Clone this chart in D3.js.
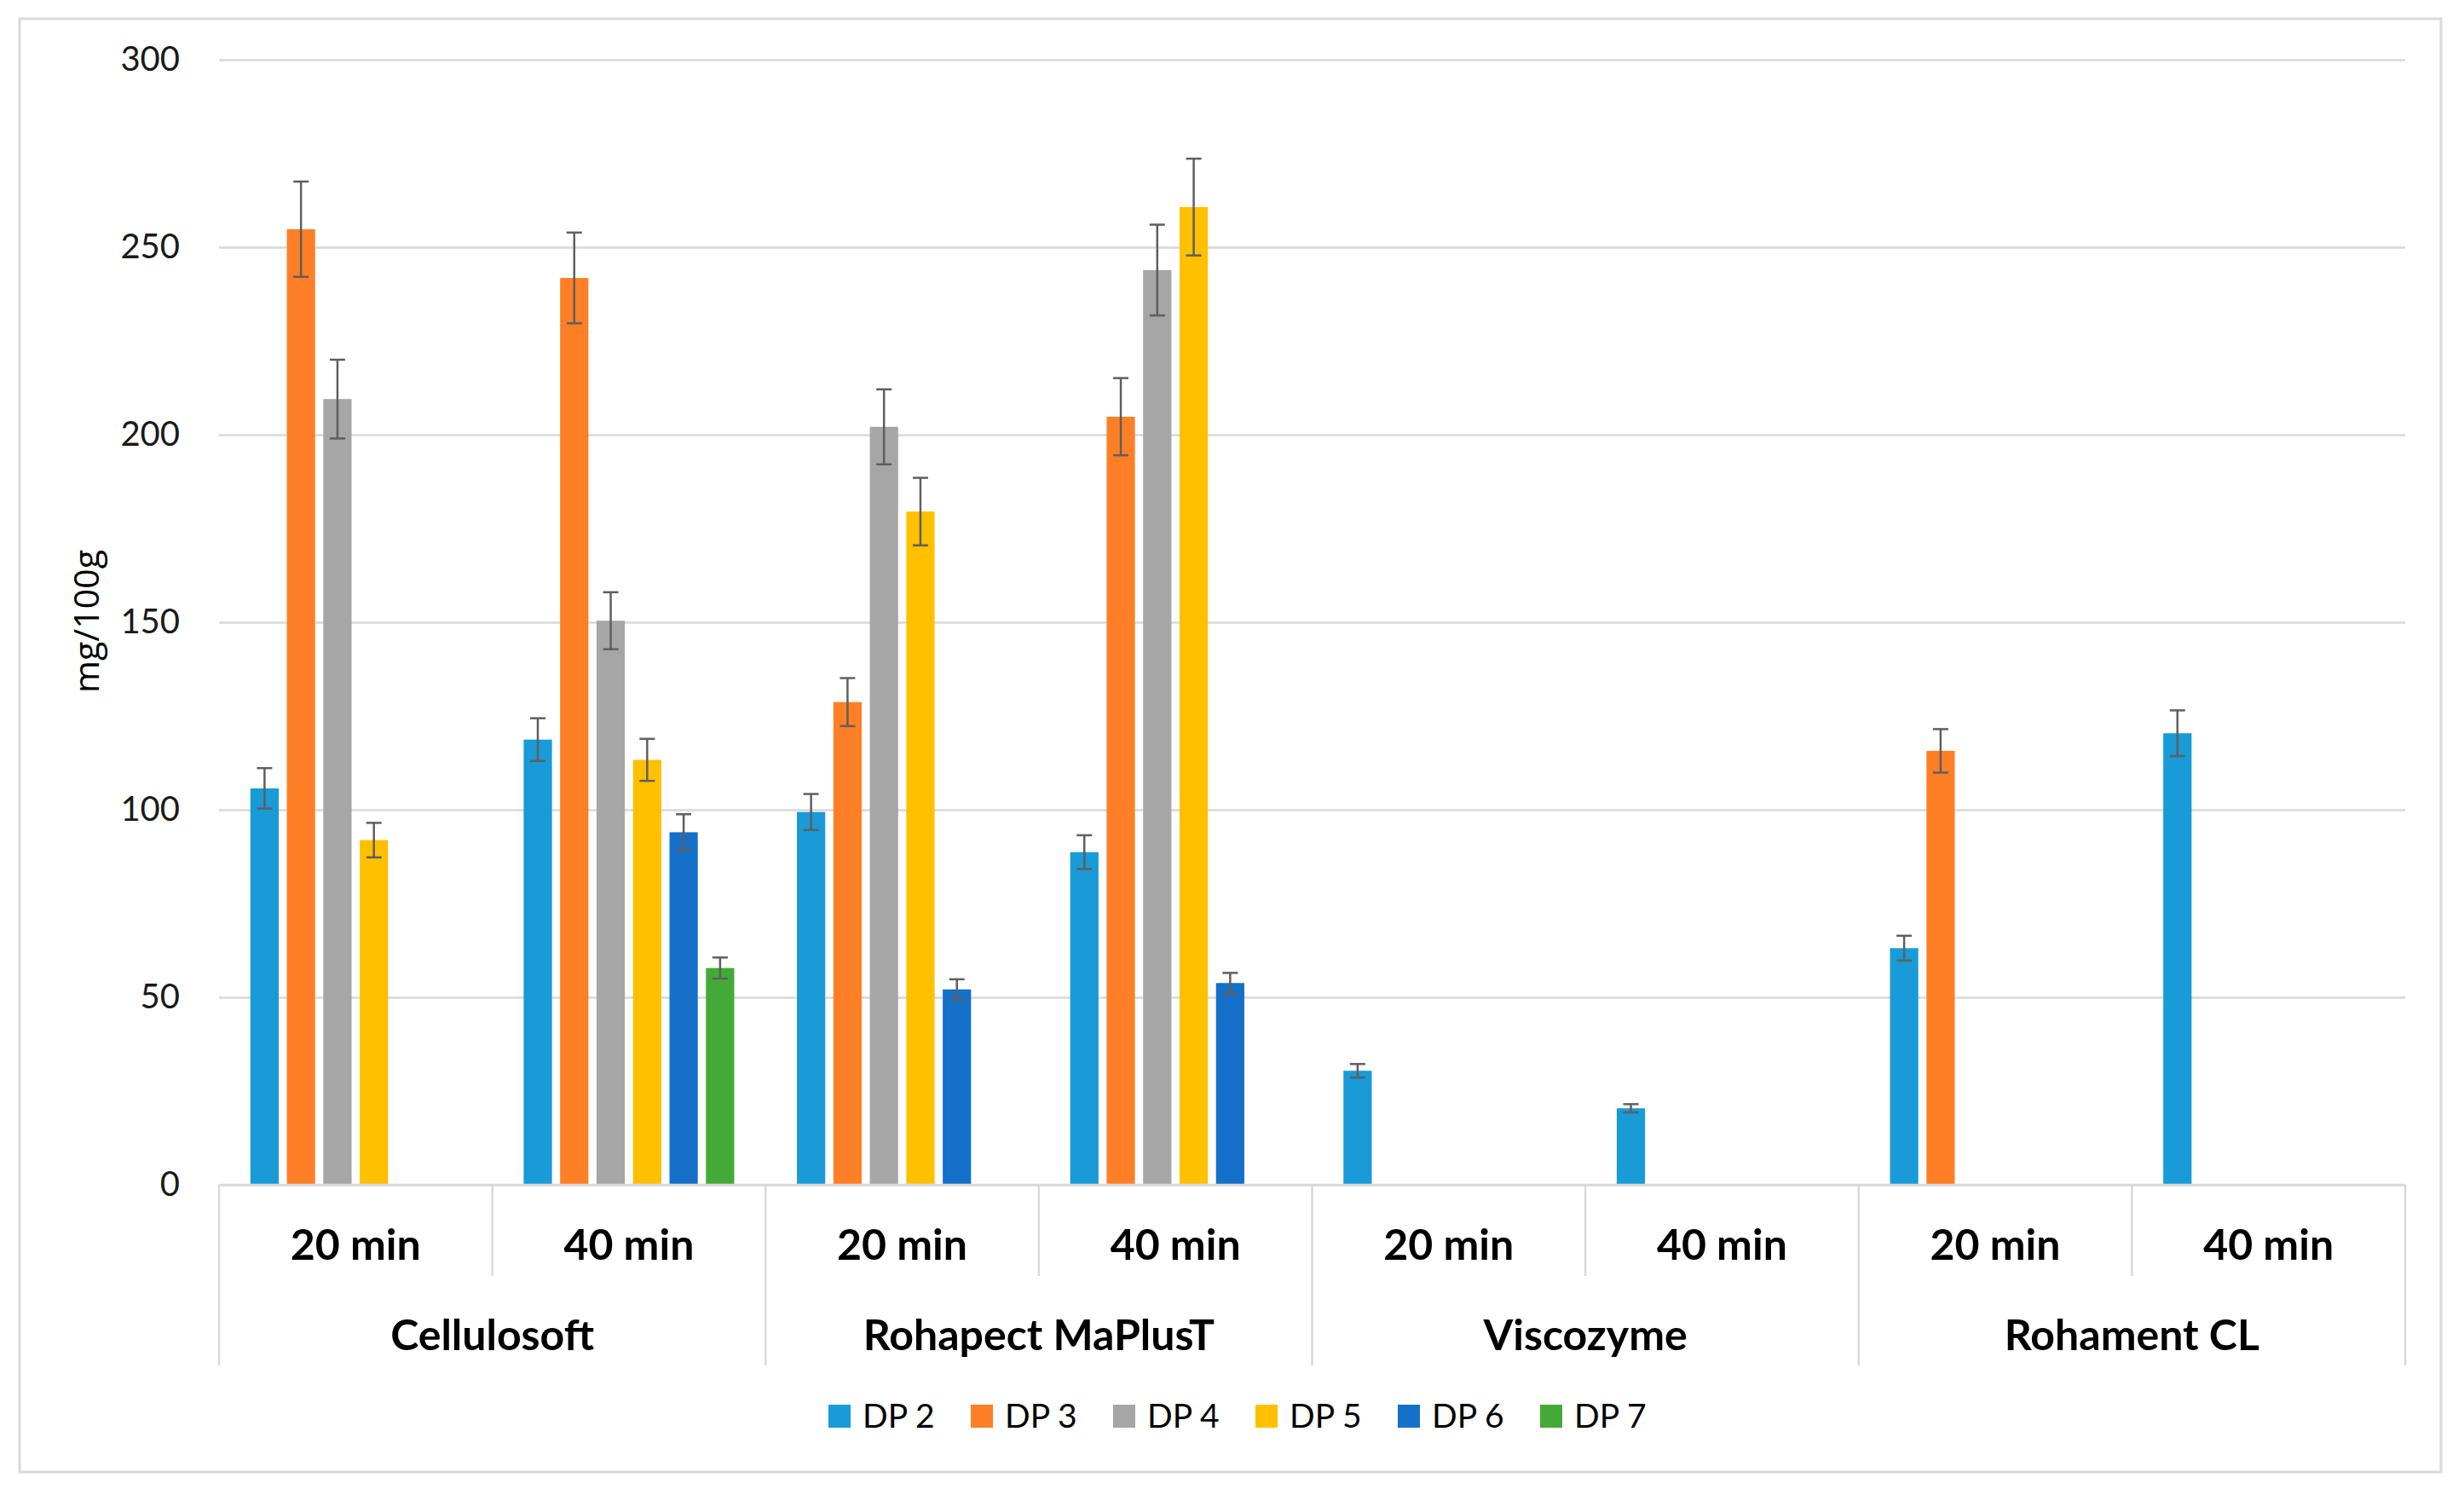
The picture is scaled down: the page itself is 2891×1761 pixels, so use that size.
<!DOCTYPE html>
<html>
<head>
<meta charset="utf-8">
<script src="https://cdn.jsdelivr.net/npm/d3@7"></script>
<style>
  body { margin: 0; background: #fff; }
</style>
</head>
<body>
<div class="chart"></div>
<script>
// values (mg/100g), one slot per group x time
const groups = ["Cellulosoft", "Rohapect MaPlusT", "Viscozyme", "Rohament CL"];
const times = ["20 min", "40 min"];
const series = ["DP 2", "DP 3", "DP 4", "DP 5", "DP 6", "DP 7"];
const colors = ["#189bd7", "#ff7f27", "#a6a6a6", "#ffc000", "#1470c8", "#44aa37"];
const yTicks = [0, 50, 100, 150, 200, 250, 300];

const dp2 = [105.7, 118.7, 99.4, 88.7, 30.4, 20.4, 63.1, 120.4];
const dp3 = [254.8, 241.8, 128.7, 204.8, null, null, 115.7, null];
const dp4 = [209.5, 150.4, 202.1, 243.9, null, null, null, null];
const dp5 = [91.9, 113.3, 179.5, 260.7, null, null, null, null];
const dp6 = [null, 94.0, 52.1, 53.8, null, null, null, null];
const dp7 = [null, 57.8, null, null, null, null, null, null];

const err2 = [5.4, 5.7, 4.8, 4.5, 1.8, 1.1, 3.3, 6.1];
const err3 = [12.7, 12.1, 6.4, 10.3, null, null, 5.8, null];
const err4 = [10.5, 7.6, 10.0, 12.1, null, null, null, null];
const err5 = [4.6, 5.6, 9.0, 12.9, null, null, null, null];
const err6 = [null, 4.8, 2.7, 2.7, null, null, null, null];
const err7 = [null, 2.8, null, null, null, null, null, null];

const values = [dp2, dp3, dp4, dp5, dp6, dp7];
const errors = [err2, err3, err4, err5, err6, err7];

const W = 2891, H = 1761;
const margin = ({top: 70, right: 69, bottom: 371, left: 257});
const width = W - margin.left - margin.right;
const height = H - margin.top - margin.bottom;

// flat list of sub categories "group|time"
let slots = [];
groups.forEach(g => times.forEach(t => slots.push(g + "|" + t)));

let bars = [];
series.forEach((s, si) => {
    slots.forEach((c, ci) => {
        if (values[si][ci] != null) {
            bars.push({slot: c, series: s, value: values[si][ci], err: errors[si][ci]});
        }
    });
});

const svg = d3.select('.chart').append('svg')
    .attr("width", W)
    .attr("height", H);

svg.append("rect")
    .attr("x", 23).attr("y", 22)
    .attr("width", 2841).attr("height", 1705)
    .attr("fill", "#fff")
    .attr("stroke", "#d9d9d9")
    .attr("stroke-width", 3);

const plot = svg.append("g")
    .attr("transform", "translate(" + margin.left + "," + margin.top + ")");

const x0 = d3.scaleBand().domain(slots).range([0, width]);
const x1 = d3.scaleBand().domain(series).range([0, x0.bandwidth()])
    .paddingInner(0.224).paddingOuter(0.86);
const yScale = d3.scaleLinear().domain([0, 300]).range([height, 0]);
const colorPal = d3.scaleOrdinal().domain(series).range(colors);

const yAxis = d3.axisLeft(yScale)
    .tickValues(yTicks)
    .tickSize(-width)
    .tickPadding(46);

plot.append("g")
    .attr("class", "axis y-axis")
    .call(yAxis)
    .call(g => g.select(".domain").remove())
    .call(g => g.selectAll(".tick line").attr("stroke", "#d9d9d9").attr("stroke-width", 2.5))
    .call(g => g.selectAll(".tick text")
        .attr("font-family", "Lato")
        .attr("font-size", "40px")
        .attr("fill", "#1a1a1a"));

// bars
plot.selectAll("rect.bar")
    .data(bars)
    .enter()
    .append("rect")
    .attr("class", "bar")
    .attr("x", d => x0(d.slot) + x1(d.series))
    .attr("y", d => yScale(d.value))
    .attr("width", x1.bandwidth())
    .attr("height", d => yScale(0) - yScale(d.value))
    .attr("fill", d => colorPal(d.series));

// error bars
const eb = plot.selectAll("g.err")
    .data(bars)
    .enter()
    .append("g")
    .attr("class", "err")
    .attr("stroke", "#5f5f5f")
    .attr("stroke-width", 2.5);
const cx = d => x0(d.slot) + x1(d.series) + x1.bandwidth() / 2;
eb.append("line")
    .attr("x1", cx).attr("x2", cx)
    .attr("y1", d => yScale(d.value + d.err))
    .attr("y2", d => yScale(d.value - d.err));
eb.append("line")
    .attr("x1", d => cx(d) - 9).attr("x2", d => cx(d) + 9)
    .attr("y1", d => yScale(d.value + d.err))
    .attr("y2", d => yScale(d.value + d.err));
eb.append("line")
    .attr("x1", d => cx(d) - 9).attr("x2", d => cx(d) + 9)
    .attr("y1", d => yScale(d.value - d.err))
    .attr("y2", d => yScale(d.value - d.err));

// category axis
const cat = plot.append("g").attr("class", "axis x-axis")
    .attr("transform", `translate(0, ${height})`);

cat.append("line")
    .attr("x1", 0).attr("x2", width)
    .attr("y1", 0).attr("y2", 0)
    .attr("stroke", "#d9d9d9").attr("stroke-width", 2.5);

let edges = slots.map(s => x0(s)).concat([width]);
cat.selectAll("line.sep")
    .data(edges)
    .enter()
    .append("line")
    .attr("class", "sep")
    .attr("x1", d => d).attr("x2", d => d)
    .attr("y1", 0)
    .attr("y2", (d, i) => i % 2 == 0 ? 212 : 107)
    .attr("stroke", "#d9d9d9").attr("stroke-width", 2.5);

cat.selectAll("text.time")
    .data(slots)
    .enter()
    .append("text")
    .attr("class", "time")
    .attr("x", d => x0(d) + x0.bandwidth() / 2)
    .attr("y", 88)
    .attr("text-anchor", "middle")
    .attr("font-family", "Lato")
    .attr("font-weight", "bold")
    .attr("font-size", "50px")
    .attr("fill", "#000")
    .text(d => d.split("|")[1]);

cat.selectAll("text.group")
    .data(groups)
    .enter()
    .append("text")
    .attr("class", "group")
    .attr("x", g => x0(g + "|" + times[0]) + x0.bandwidth())
    .attr("y", 194)
    .attr("text-anchor", "middle")
    .attr("font-family", "Lato")
    .attr("font-weight", "bold")
    .attr("font-size", "50px")
    .attr("fill", "#000")
    .text(g => g);

// y title
svg.append("text")
    .attr("transform", "translate(116, 729) rotate(-90)")
    .attr("text-anchor", "middle")
    .attr("font-family", "Open Sans")
    .attr("font-size", "41px")
    .attr("fill", "#000")
    .text("mg/100g");

// legend
const legend = svg.append("g").attr("transform", "translate(972, 1648)");
const item = legend.selectAll("g")
    .data(series)
    .enter()
    .append("g")
    .attr("transform", (d, i) => `translate(${i * 167}, 0)`);
item.append("rect")
    .attr("width", 26).attr("height", 27)
    .attr("fill", d => colorPal(d));
item.append("text")
    .attr("x", 40).attr("y", 27)
    .attr("font-family", "Lato")
    .attr("font-size", "39px")
    .attr("fill", "#000")
    .text(d => d);
</script>
</body>
</html>
